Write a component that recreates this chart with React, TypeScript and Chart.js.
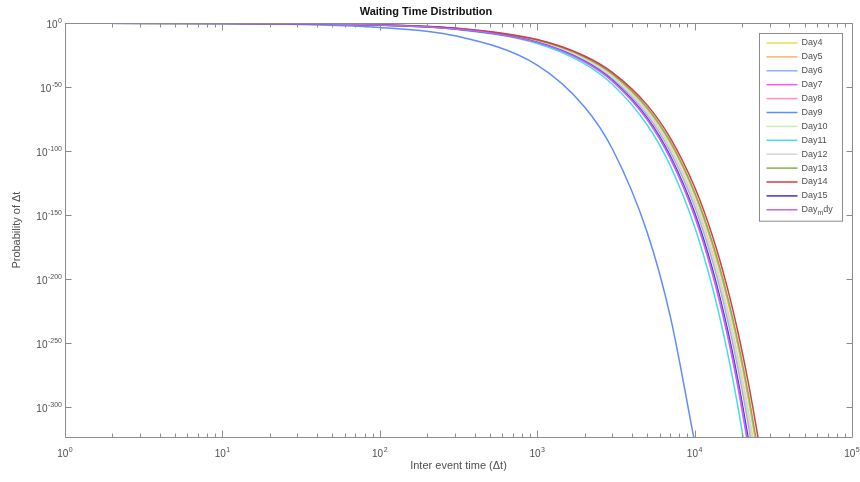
import React, { useEffect, useRef } from "react";
import { Chart, registerables } from "chart.js";

Chart.register(...registerables);

const TITLE = "Waiting Time Distribution";
const X_LABEL = "Inter event time (Δt)";
const Y_LABEL = "Probability of Δt";

// x: inter event time (Δt); y: log10 of probability
const times = [1, 10, 100, 300, 1000, 2000, 3000, 5000, 7000, 10000, 13000, 16000, 19000, 22000, 25000, 28000];

const xTicks = [1, 10, 100, 1000, 10000, 100000];
const yTicks = [0, -50, -100, -150, -200, -250, -300];
const Y_MIN = -323.3;
const Y_MAX = 0;

const seriesLabels = ["Day4", "Day5", "Day6", "Day7", "Day8", "Day9", "Day10", "Day11", "Day12", "Day13", "Day14", "Day15", "Day_mdy"];
const seriesColors = ["#e2e24a", "#f7b560", "#8fb0ff", "#ff55ff", "#ff8fc0", "#5f8cff", "#c2f0b0", "#45dcee", "#d6d6d6", "#78b848", "#d83a48", "#3535d8", "#c466ee"];

const day4 = [-0.01, -0.14, -1.4, -4.2, -13.9, -27.8, -41.7, -69.5, -97.3, -139, -180.7, -222.4, -264.1, -305.8, -347.5, null];
const day5 = [-0.01, -0.13, -1.3, -4.0, -13.4, -26.8, -40.2, -67, -93.8, -134, -174.2, -214.4, -254.6, -294.8, -335, null];
const day6 = [-0.01, -0.14, -1.4, -4.3, -14.3, -28.6, -42.9, -71.5, -100.1, -143, -185.9, -228.8, -271.7, -314.6, -357.5, null];
const day7 = [-0.02, -0.15, -1.5, -4.5, -15.1, -30.2, -45.3, -75.5, -105.7, -151, -196.3, -241.6, -286.9, -332.2, null, null];
const day8 = [-0.01, -0.14, -1.4, -4.2, -14.1, -28.2, -42.3, -70.5, -98.7, -141, -183.3, -225.6, -267.9, -310.2, -352.5, null];
const day9 = [-0.03, -0.33, -3.3, -9.8, -32.7, -65.4, -98.1, -163.5, -228.9, -327, null, null, null, null, null, null];
const day10 = [-0.01, -0.14, -1.4, -4.2, -14, -28, -42, -70, -98, -140, -182, -224, -266, -308, -350, null];
const day11 = [-0.02, -0.16, -1.6, -4.8, -15.9, -31.8, -47.7, -79.5, -111.3, -159, -206.7, -254.4, -302.1, -349.8, null, null];
const day12 = [-0.01, -0.14, -1.4, -4.1, -13.8, -27.6, -41.4, -69, -96.6, -138, -179.4, -220.8, -262.2, -303.6, -345, null];
const day13 = [-0.01, -0.13, -1.3, -4.0, -13.2, -26.4, -39.6, -66, -92.4, -132, -171.6, -211.2, -250.8, -290.4, -330, null];
const day14 = [-0.01, -0.13, -1.3, -3.8, -12.8, -25.6, -38.4, -64, -89.6, -128, -166.4, -204.8, -243.2, -281.6, -320, -358.4];
const day15 = [-0.01, -0.15, -1.5, -4.4, -14.8, -29.6, -44.4, -74, -103.6, -148, -192.4, -236.8, -281.2, -325.6, null, null];
const dayMdy = [-0.02, -0.15, -1.5, -4.5, -15, -30, -45, -75, -105, -150, -195, -240, -285, -330, null, null];

const seriesValues = [day4, day5, day6, day7, day8, day9, day10, day11, day12, day13, day14, day15, dayMdy];

const FONT = "'Liberation Sans', Arial, Helvetica, sans-serif";
const AXIS_COLOR = "#8c8c8c";
const TEXT_COLOR = "#505050";

function drawPower(ctx: CanvasRenderingContext2D, exp: string, x: number, baseline: number, align: "center" | "right") {
  ctx.font = `10px ${FONT}`;
  const bw = ctx.measureText("10").width;
  ctx.font = `7px ${FONT}`;
  const ew = ctx.measureText(exp).width;
  const total = bw + 0.5 + ew;
  const sx = align === "center" ? x - total / 2 : x - total;
  ctx.textAlign = "left";
  ctx.textBaseline = "alphabetic";
  ctx.font = `10px ${FONT}`;
  ctx.fillText("10", sx, baseline);
  ctx.font = `7px ${FONT}`;
  ctx.fillText(exp, sx + bw + 0.5, baseline - 5);
}

const axesBoxPlugin = {
  id: "axesBox",
  afterDatasetsDraw(chart: any) {
    const { ctx, chartArea, scales } = chart;
    const { left, right, top, bottom } = chartArea;
    const x = scales.x;
    const y = scales.y;
    ctx.save();
    ctx.strokeStyle = AXIS_COLOR;
    ctx.lineWidth = 1;
    const L = Math.round(left) + 0.5;
    const R = Math.round(right) + 0.5;
    const T = Math.round(top) + 0.5;
    const B = Math.round(bottom) + 0.5;
    ctx.beginPath();
    ctx.rect(L, T, R - L, B - T);
    for (let e = 0; e < 5; e++) {
      for (let m = 1; m <= 9; m++) {
        const v = m * Math.pow(10, e);
        const px = Math.round(x.getPixelForValue(v)) + 0.5;
        const len = m === 1 ? 7 : 4;
        ctx.moveTo(px, B);
        ctx.lineTo(px, B - len);
        ctx.moveTo(px, T);
        ctx.lineTo(px, T + len);
      }
    }
    yTicks.forEach((v) => {
      const py = Math.round(y.getPixelForValue(v)) + 0.5;
      ctx.moveTo(L, py);
      ctx.lineTo(L + 6, py);
      ctx.moveTo(R, py);
      ctx.lineTo(R - 6, py);
    });
    ctx.stroke();

    ctx.fillStyle = TEXT_COLOR;
    xTicks.forEach((v) => {
      const px = x.getPixelForValue(v);
      drawPower(ctx, String(Math.round(Math.log10(v))), px, bottom + 20, "center");
    });
    yTicks.forEach((v) => {
      const py = y.getPixelForValue(v);
      drawPower(ctx, String(Math.round(v)), left - 3, py + 5, "right");
    });
    ctx.restore();
  },
};

const legendPlugin = {
  id: "matlabLegend",
  afterDraw(chart: any) {
    const { ctx, chartArea } = chart;
    const datasets = chart.data.datasets;
    const rowH = 13.9;
    const w = 83;
    const h = rowH * datasets.length + 7;
    const x0 = Math.round(chartArea.right - 10 - w) + 0.5;
    const y0 = Math.round(chartArea.top + 10) + 0.5;
    ctx.save();
    ctx.fillStyle = "#ffffff";
    ctx.fillRect(x0, y0, w, h);
    ctx.strokeStyle = AXIS_COLOR;
    ctx.lineWidth = 1;
    ctx.strokeRect(x0, y0, w, h);
    ctx.textBaseline = "middle";
    datasets.forEach((ds: any, i: number) => {
      const cy = y0 + 9.5 + i * rowH;
      ctx.strokeStyle = ds.borderColor;
      ctx.lineWidth = 1.5;
      ctx.beginPath();
      ctx.moveTo(x0 + 7, cy);
      ctx.lineTo(x0 + 38, cy);
      ctx.stroke();
      ctx.fillStyle = TEXT_COLOR;
      let tx = x0 + 42;
      const label: string = ds.label;
      const parts = label.split("_");
      ctx.font = `9px ${FONT}`;
      ctx.fillText(parts[0], tx, cy);
      tx += ctx.measureText(parts[0]).width;
      if (parts.length > 1) {
        const sub = parts[1].charAt(0);
        const rest = parts[1].slice(1);
        ctx.font = `7px ${FONT}`;
        ctx.fillText(sub, tx, cy + 3);
        tx += ctx.measureText(sub).width;
        ctx.font = `9px ${FONT}`;
        ctx.fillText(rest, tx, cy);
      }
    });
    ctx.restore();
  },
};

export default function App() {
  const ref = useRef<HTMLCanvasElement>(null);
  useEffect(() => {
    if (!ref.current) return;
    Chart.defaults.font.family = FONT;
    const datasets = seriesLabels.map((label, i) => ({
      label,
      data: times.map((t, j) => ({ x: t, y: seriesValues[i][j] })),
      borderColor: seriesColors[i],
      backgroundColor: seriesColors[i],
      borderWidth: 1.5,
      pointRadius: 0,
      fill: false,
      spanGaps: false,
      cubicInterpolationMode: "monotone" as const,
      order: -i,
    }));
    const chart = new Chart(ref.current, {
      type: "line",
      data: { datasets },
      plugins: [axesBoxPlugin, legendPlugin],
      options: {
        animation: false,
        responsive: true,
        maintainAspectRatio: false,
        layout: { padding: { left: 0, right: 8, top: 0, bottom: 0 } },
        plugins: {
          legend: { display: false },
          tooltip: { enabled: false },
          title: {
            display: true,
            text: TITLE,
            color: "#111",
            font: { size: 11, weight: "bold", family: FONT },
            padding: { top: 5, bottom: 5 },
          },
        },
        scales: {
          x: {
            type: "logarithmic",
            min: 1,
            max: 100000,
            afterBuildTicks: (scale: any) => {
              scale.ticks = xTicks.map((v) => ({ value: v }));
            },
            afterFit: (scale: any) => {
              scale.height = 45;
            },
            ticks: { display: false },
            grid: { display: false, drawTicks: false },
            border: { display: false },
            title: {
              display: true,
              text: X_LABEL,
              color: TEXT_COLOR,
              font: { size: 11, family: FONT },
              padding: { top: 0, bottom: 9 },
            },
          },
          y: {
            type: "linear",
            min: Y_MIN,
            max: Y_MAX,
            afterBuildTicks: (scale: any) => {
              scale.ticks = yTicks.map((v) => ({ value: v }));
            },
            afterFit: (scale: any) => {
              scale.width = 65;
            },
            ticks: { display: false },
            grid: { display: false, drawTicks: false },
            border: { display: false },
            title: {
              display: true,
              text: Y_LABEL,
              color: TEXT_COLOR,
              font: { size: 11, family: FONT },
              padding: { top: 10, bottom: 0 },
            },
          },
        },
      },
    });
    return () => chart.destroy();
  }, []);
  return (
    <div style={{ position: "fixed", left: 0, top: 0, width: 860, height: 482, background: "#ffffff" }}>
      <canvas ref={ref} />
    </div>
  );
}
